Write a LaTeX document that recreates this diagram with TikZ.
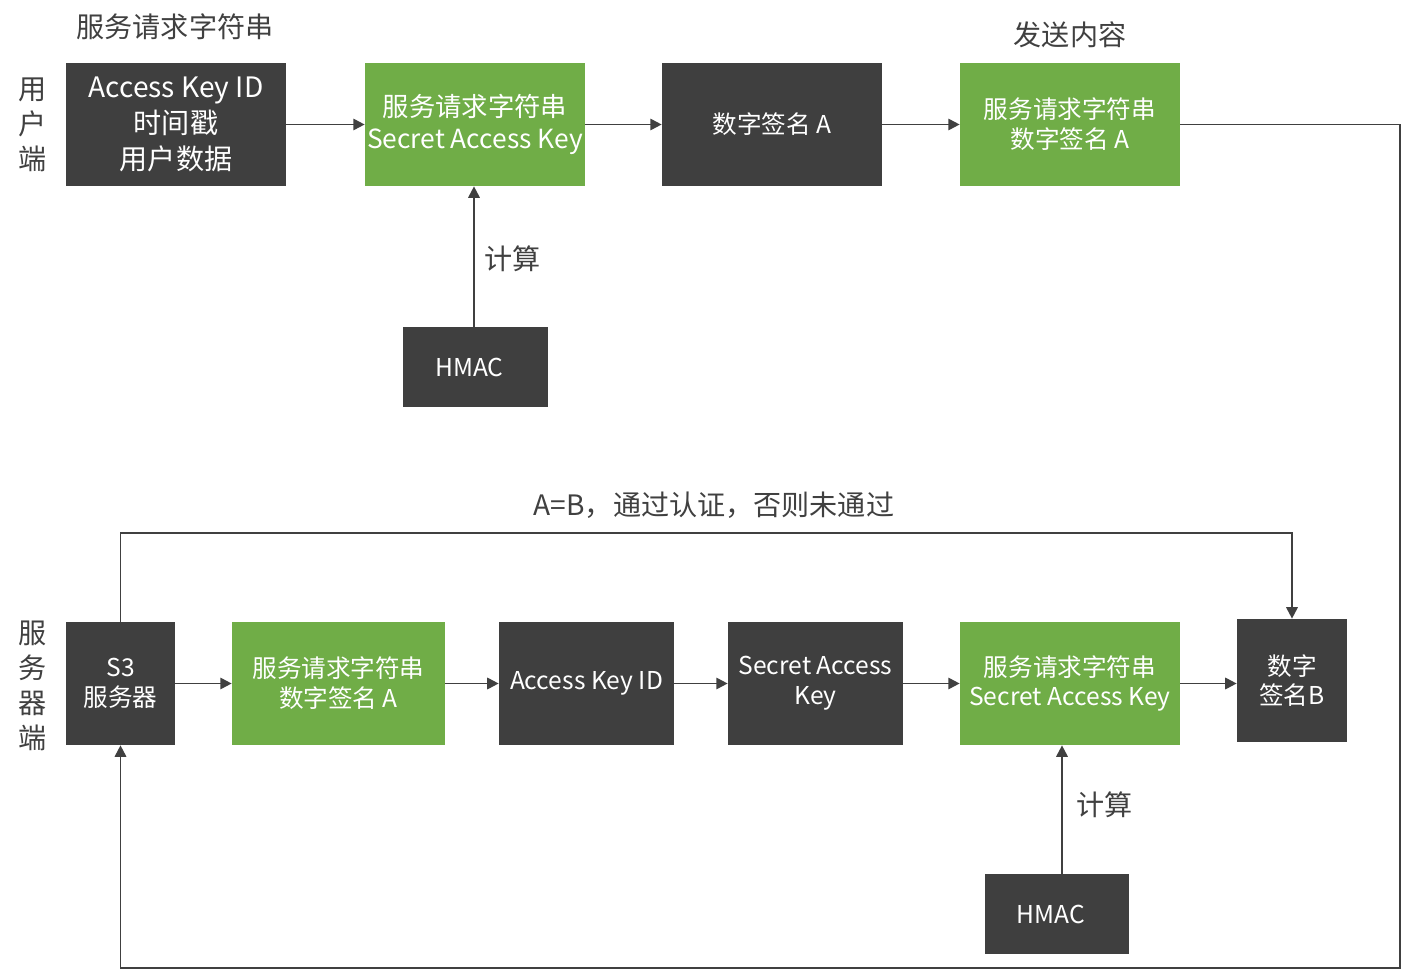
\documentclass[tikz,border=0pt]{standalone}
\usepackage{fontspec}
\setmainfont{Noto Sans CJK SC}
\usetikzlibrary{arrows.meta}

\definecolor{boxdark}{HTML}{3F3F3F}
\definecolor{boxgreen}{HTML}{70AD47}
\definecolor{linegray}{HTML}{404040}

\tikzset{
  darkbox/.style={fill=boxdark, text=white, align=center, inner sep=0pt, minimum height=2.46cm},
  greenbox/.style={fill=boxgreen, text=white, align=center, inner sep=0pt, minimum height=2.46cm},
  note/.style={text=linegray, inner sep=0pt, font=\fontsize{16}{19.5}\selectfont},
  flow/.style={-{Triangle[length=6.5pt,width=6.5pt]}, line width=1.1pt, draw=linegray},
  big/.style={font=\fontsize{16}{20.5}\selectfont},
  small/.style={font=\fontsize{14}{17}\selectfont}
}

\begin{document}
\begin{tikzpicture}[x=0.02cm, y=-0.02cm]
        \useasboundingbox (0,0) rectangle (1401,969);

        % Side labels
        \node[note, align=center, font=\fontsize{16}{19.9}\selectfont] (user) at (33,125) {用\\户\\端};
        \node[note, align=center, font=\fontsize{16}{19.9}\selectfont] (server) at (33,686) {服\\务\\器\\端};

        % Client row
        \node[note] (reqlabel) at (175,27) {服务请求字符串};
        \node[note] (sendlabel) at (1070,35) {发送内容};
        \node[darkbox, big, minimum width=4.4cm] (input) at (176,124.5) {Access Key ID\\时间戳\\用户数据};
        \node[greenbox, font=\fontsize{15}{18.5}\selectfont, minimum width=4.4cm] (sign) at (475,124.5) {服务请求字符串\\Secret Access Key};
        \node[darkbox, small, minimum width=4.4cm] (siga) at (772,124.5) {数字签名 A};
        \node[greenbox, small, minimum width=4.4cm] (send) at (1070,124.5) {服务请求字符串\\数字签名 A};
        \node[darkbox, small, minimum width=2.9cm, minimum height=1.6cm] (hmaca) at (475.5,367) {HMAC\hspace{0.25cm}};
        \node[note, anchor=west] (calca) at (484,259) {计算};

        \draw[flow] (input) -- (sign);
        \draw[flow] (sign) -- (siga);
        \draw[flow] (siga) -- (send);
        \draw[flow] ([xshift=-0.03cm]hmaca.north) -- ([xshift=-0.03cm]hmaca.north |- sign.south);

        % Server row
        \node[darkbox, small, minimum width=2.18cm] (s3) at (120.5,683.5) {S3\\服务器};
        \node[greenbox, small, minimum width=4.26cm] (recv) at (338.5,683.5) {服务请求字符串\\数字签名 A};
        \node[darkbox, small, minimum width=3.5cm] (akid) at (586.5,683.5) {Access Key ID};
        \node[darkbox, small, minimum width=3.5cm] (secret) at (815.5,683.5) {Secret Access\\Key};
        \node[greenbox, small, minimum width=4.4cm] (resign) at (1070,683.5) {服务请求字符串\\Secret Access Key};
        \node[darkbox, small, minimum width=2.2cm] (sigb) at (1292,680.5) {数字\\签名B};
        \node[darkbox, small, minimum width=2.9cm, minimum height=1.6cm] (hmacb) at (1057,914) {HMAC\hspace{0.25cm}};
        \node[note, anchor=west] (calcb) at (1076,805) {计算};
        \node[note] (result) at (714,505) {A=B，通过认证，否则未通过};

        \draw[flow] (s3) -- (recv);
        \draw[flow] (recv) -- (akid);
        \draw[flow] (akid) -- (secret);
        \draw[flow] (secret) -- (resign);
        \draw[flow] (resign.east) -- (resign.east -| sigb.west);
        \draw[flow] ([xshift=0.1cm]hmacb.north) -- ([xshift=0.1cm]hmacb.north |- resign.south);

        % Loops
        \coordinate (back) at (1400,968);
        \coordinate (check) at (700,533);
        \draw[flow] (send.east) -| (back) -| (s3.south);
        \draw[flow] (s3.north) |- (check) -| (sigb.north);

    \end{tikzpicture}
\end{document}
